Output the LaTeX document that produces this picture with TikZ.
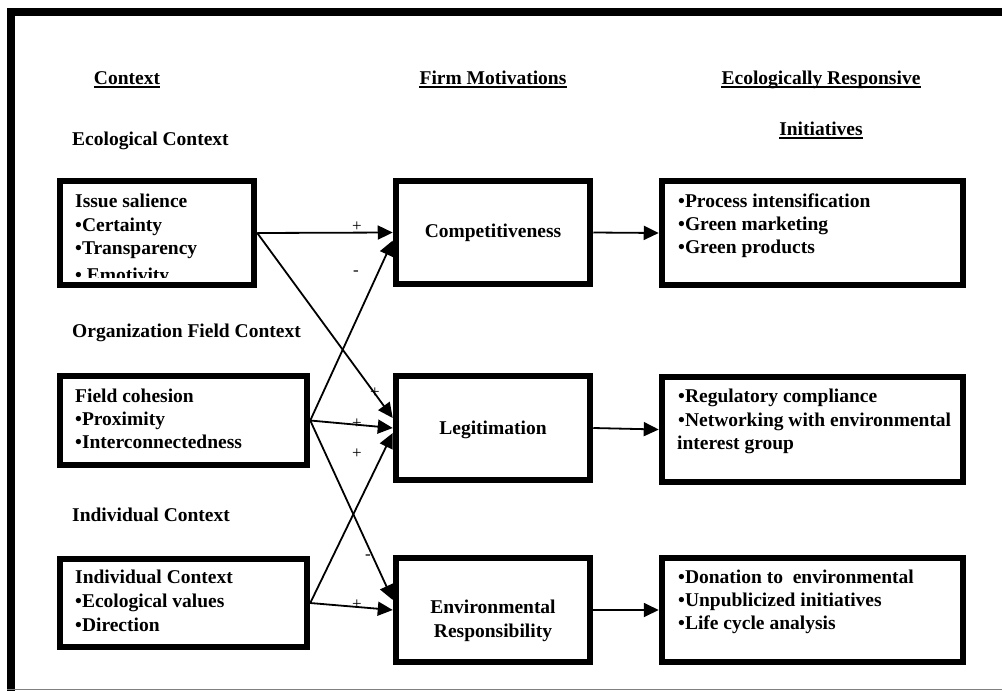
\documentclass[tikz,border=0pt]{standalone}
\usepackage{fontspec}
\setmainfont{Liberation Serif}
\usetikzlibrary{arrows.meta,calc}
\begin{document}
\begin{tikzpicture}[x=1pt,y=-1pt,
  box/.style={draw, line width=6.5pt, inner sep=0pt},
  txt/.style={font=\fontsize{19.5}{23}\selectfont\bfseries, inner sep=0pt, anchor=base west},
  ctxt/.style={font=\fontsize{19.5}{23}\selectfont\bfseries, inner sep=0pt, anchor=base},
  sign/.style={font=\fontsize{17}{17}\selectfont, inner sep=0pt},
  conn/.style={line width=1.8pt, -{Triangle[length=15pt,width=14pt]}},
  uline/.style={line width=1.4pt},
  frame/.style={line width=8pt}]
\useasboundingbox (0,0) rectangle (1002,691);
% outer frame
\draw[frame] (11,8) -- (11,691);
\draw[frame] (7,12) -- (1002,12);
\draw[gray, line width=1pt] (7,689.5) -- (1002,689.5);

% headers
\node[ctxt] (h1) at (127,84) {Context};
\node[ctxt] (h2) at (493,84) {Firm Motivations};
\node[ctxt] (h3) at (821,84) {Ecologically Responsive};
\node[ctxt] (h4) at (821,135) {Initiatives};
\foreach \h in {h1,h2,h3,h4}
  \draw[uline] ([yshift=-3pt]\h.base west) -- ([yshift=-3pt]\h.base east);

\node[txt] (s1) at (72,145) {Ecological Context};
\node[txt] (s2) at (72,337) {Organization Field Context};
\node[txt] (s3) at (72,521) {Individual Context};

% boxes
\node[box, minimum width=194pt, minimum height=104pt] (A1) at (157,233) {};
\node[box, minimum width=194pt, minimum height=103pt] (B1) at (493,232.5) {};
\node[box, minimum width=301pt, minimum height=104pt] (C1) at (812.5,233) {};
\node[box, minimum width=247pt, minimum height=89pt] (A2) at (183.5,420.5) {};
\node[box, minimum width=194pt, minimum height=104pt] (B2) at (493,428) {};
\node[box, minimum width=301pt, minimum height=105pt] (C2) at (812.5,429.5) {};
\node[box, minimum width=247pt, minimum height=88pt] (A3) at (183.5,603) {};
\node[box, minimum width=194pt, minimum height=104pt] (B3) at (493,610) {};
\node[box, minimum width=301pt, minimum height=104pt] (C3) at (812.5,610) {};

% box texts
\node[txt] (a1a) at (75,207) {Issue salience};
\node[txt] (a1b) at (75,231) {•Certainty};
\node[txt] (a1c) at (75,254) {•Transparency};
\begin{scope}
  \clip (60,260) rectangle (250,277);
  \node[txt] (a1d) at (75,281) {• Emotivity};
\end{scope}

\node[txt] (a2a) at (75,402) {Field cohesion};
\node[txt] (a2b) at (75,425) {•Proximity};
\node[txt] (a2c) at (75,448) {•Interconnectedness};

\node[txt] (a3a) at (75,583) {Individual Context};
\node[txt] (a3b) at (75,607) {•Ecological values};
\node[txt] (a3c) at (75,631) {•Direction};

\node[ctxt] (b1t) at (493,237) {Competitiveness};
\node[ctxt] (b2t) at (493,434) {Legitimation};
\node[ctxt] (b3a) at (493,613) {Environmental};
\node[ctxt] (b3b) at (493,637) {Responsibility};

\node[txt] (c1a) at (678,207) {•Process intensification};
\node[txt] (c1b) at (678,230) {•Green marketing};
\node[txt] (c1c) at (678,253) {•Green products};

\node[txt] (c2a) at (678,402) {•Regulatory compliance};
\node[txt] (c2b) at (678,426) {•Networking with environmental};
\node[txt] (c2c) at (677,449) {interest group};

\node[txt] (c3a) at (678,583) {•Donation to\ \ environmental};
\node[txt] (c3b) at (678,606) {•Unpublicized initiatives};
\node[txt] (c3c) at (678,629) {•Life cycle analysis};

% connectors
\draw[conn] (A1.east) -- (B1.west);
\draw[conn] (A1.east) -- ($(B2.west)+(0,-10)$);
\draw[conn] (A2.east) -- ($(B1.west)+(0,8)$);
\draw[conn] (A2.east) -- (B2.west);
\draw[conn] (A2.east) -- ($(B3.west)+(0,-10)$);
\draw[conn] (A3.east) -- ($(B2.west)+(0,5)$);
\draw[conn] (A3.east) -- (B3.west);
\draw[conn] (B1.east) -- (C1.west);
\draw[conn] (B2.east) -- (C2.west);
\draw[conn] (B3.east) -- (C3.west);

% signs
\node[sign] (p1) at (357,227) {+};
\node[sign] (m1) at (356,273) {-};
\node[sign] (p2) at (375,393) {+};
\node[sign] (p3) at (357,424) {+};
\node[sign] (p4) at (357,454) {+};
\node[sign] (m2) at (368,557) {-};
\node[sign] (p5) at (357,605) {+};
\end{tikzpicture}
\end{document}
